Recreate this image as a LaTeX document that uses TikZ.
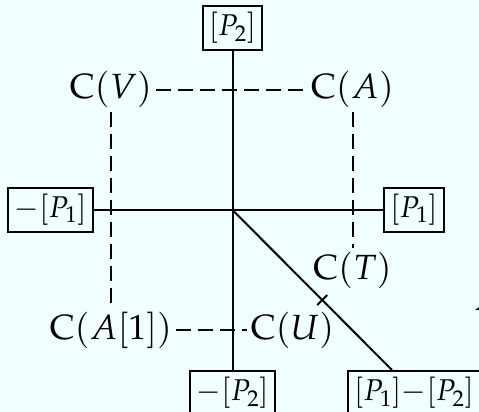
\documentclass[tikz,border=0pt]{standalone}
\usepackage{mathpazo}
\usetikzlibrary{calc}
\definecolor{bgcol}{RGB}{240,255,254}
\tikzset{
  every picture/.style={x=1pt,y=-1pt},
  axbox/.style={draw,line width=2pt,inner xsep=6pt,inner ysep=3pt,minimum height=44pt,font=\fontsize{30}{36}\selectfont},
  biglab/.style={inner sep=4pt,font=\fontsize{35}{40}\selectfont},
  axline/.style={line width=2pt},
  dline/.style={line width=2pt,dash pattern=on 15pt off 7pt}
}
\begin{document}
\begin{tikzpicture}
\fill[bgcol] (0,0) rectangle (479,412);
\useasboundingbox (0,0) rectangle (479,412);
\coordinate (O) at (232.5,210);
\node[axbox] (P2) at (232.5,28) {$[P_2]$};
\node[axbox] (mP1) at (50.5,209.5) {$-[P_1]$};
\node[axbox] (P1) at (414,209.5) {$[P_1]$};
\node[axbox,anchor=north] (mP2) at (232.5,370) {$-[P_2]$};
\node[axbox,anchor=north west] (P1P2) at (347,370) {$[P_1]{-}[P_2]$};
\coordinate (Dend) at (392,370);
\node[biglab] (CV) at (111,89.5) {$\mathrm{C}(V)$};
\node[biglab] (CA) at (352.5,89.5) {$\mathrm{C}(A)$};
\node[biglab] (CT) at (352.5,270) {$\mathrm{C}(T)$};
\node[biglab] (CA1) at (111,330) {$\mathrm{C}(A[1])$};
\node[biglab] (CU) at (292.5,330) {$\mathrm{C}(U)$};
\node[biglab,anchor=base west] (Aext) at (470,310) {$A$};
\draw[axline] (P2.south) -- (mP2.north);
\draw[axline] (mP1.east) -- (P1.west);
\draw[axline] (O) -- (Dend) coordinate[pos=0.5625] (tk);
\draw[axline] ($(tk)+(-5,5)$) -- ($(tk)+(5,-5)$);
\draw[dline] (CV.east) -- (CA.west);
\draw[dline] (CV.south) -- (CA1.north);
\draw[dline] (CA.south) -- (CT.north);
\draw[dline] (CA1.east) -- (CU.west);
\end{tikzpicture}
\end{document}
